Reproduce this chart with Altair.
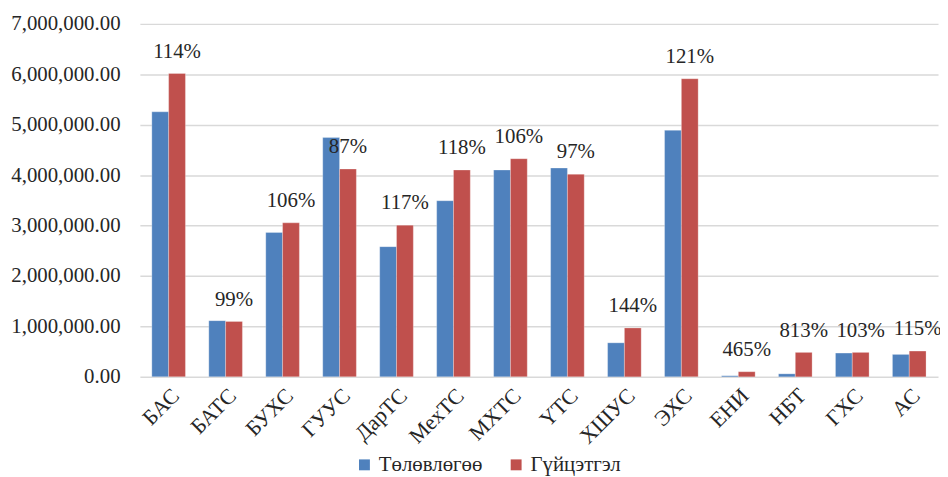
import altair as alt
import pandas as pd

categories = ["БАС", "БАТС", "БУХС", "ГУУС", "ДарТС", "МехТС", "МХТС",
              "ҮТС", "ХШУС", "ЭХС", "ЕНИ", "НБТ", "ГХС", "АС"]
series_names = ["Төлөвлөгөө", "Гүйцэтгэл"]
plan = [5256000, 1115000, 2864000, 4745000, 2582000, 3493000, 4102000,
        4141000, 675000, 4889000, 22000, 60000, 472000, 445000]
actual = [6017000, 1100000, 3054000, 4122000, 3008000, 4102000, 4326000,
          4017000, 970000, 5912000, 102000, 485000, 485000, 512000]
pct_labels = ["114%", "99%", "106%", "87%", "117%", "118%", "106%",
              "97%", "144%", "121%", "465%", "813%", "103%", "115%"]
y_ticks = [0, 1000000, 2000000, 3000000, 4000000, 5000000, 6000000, 7000000]
colors = ["#4F81BD", "#C0504D"]

rows = []
for c, p, a, t in zip(categories, plan, actual, pct_labels):
    rows.append({"cat": c, "series": series_names[0], "value": p, "pct": ""})
    rows.append({"cat": c, "series": series_names[1], "value": a, "pct": t})
df = pd.DataFrame(rows)

FONT = "Liberation Serif"
TXT = "#262626"

x_enc = alt.X("cat:N", sort=categories, title=None,
              scale=alt.Scale(paddingInner=0.41, paddingOuter=0.21),
              axis=alt.Axis(labelAngle=-45, ticks=False, domain=False,
                            labelFont=FONT, labelFontSize=22, labelColor=TXT,
                            labelPadding=8))
xoff = alt.XOffset("series:N", sort=series_names,
                   scale=alt.Scale(domain=series_names))
y_enc = alt.Y("value:Q", title=None,
              scale=alt.Scale(domain=[0, 7000000], nice=False),
              axis=alt.Axis(values=y_ticks, format=",.2f", ticks=False,
                            domain=False, grid=True, gridColor="#D9D9D9",
                            gridWidth=1.5, labelFont=FONT, labelFontSize=21,
                            labelColor=TXT, labelPadding=20))

bars = alt.Chart(df).mark_bar(stroke="#FFFFFF", strokeOpacity=0.35,
                              strokeWidth=0.8).encode(
    x=x_enc,
    xOffset=xoff,
    y=y_enc,
    color=alt.Color("series:N", sort=series_names,
                    scale=alt.Scale(domain=series_names, range=colors),
                    legend=alt.Legend(title=None, orient="none",
                                      direction="horizontal",
                                      legendX=216, legendY=434,
                                      symbolType="square", symbolSize=121,
                                      symbolStrokeWidth=0, labelFont=FONT,
                                      labelFontSize=21, labelColor=TXT,
                                      labelOffset=4, columnPadding=23,
                                      padding=0)),
)

labels = alt.Chart(df[df["series"] == series_names[1]]).mark_text(
    font=FONT, fontSize=21, color=TXT, baseline="middle", align="center",
    dy=-22
).encode(
    x=alt.X("cat:N", sort=categories),
    xOffset=xoff,
    y=alt.Y("value:Q"),
    text="pct:N",
)

chart = alt.layer(bars, labels).properties(
    width=805, height=356,
    padding={"left": 133, "top": 14, "right": 2, "bottom": 100},
    autosize=alt.AutoSizeParams(type="none"),
).configure_view(stroke=None)

chart.save("out.html", embed_options={"renderer": "svg", "actions": False})
